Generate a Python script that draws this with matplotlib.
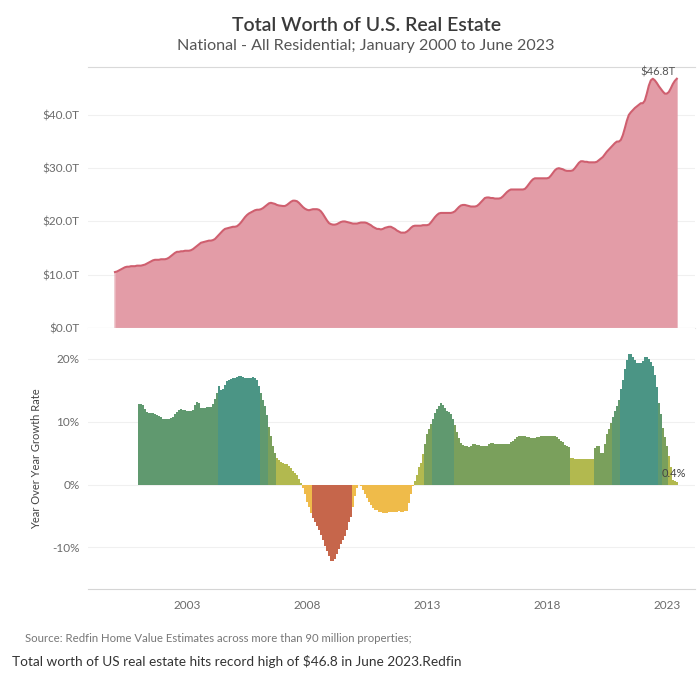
import numpy as np
import matplotlib
matplotlib.use("Agg")
import matplotlib.pyplot as plt
from matplotlib.ticker import FuncFormatter

plt.rcParams['font.family'] = ['Lato', 'DejaVu Sans']

# total worth, $T, monthly Jan 2000 .. Jun 2023 (one row per year)
worth = [
    10.5, 10.6, 10.8, 11.0, 11.2, 11.4, 11.5, 11.5, 11.6, 11.6, 11.6, 11.7,
    11.7, 11.7, 11.8, 11.9, 12.1, 12.3, 12.5, 12.7, 12.8, 12.8, 12.8, 12.9,
    12.9, 12.9, 13.0, 13.2, 13.5, 13.8, 14.1, 14.3, 14.3, 14.4, 14.4, 14.5,
    14.5, 14.5, 14.6, 14.8, 15.1, 15.4, 15.7, 16.0, 16.1, 16.2, 16.3, 16.4,
    16.4, 16.5, 16.7, 17.1, 17.5, 17.9, 18.3, 18.6, 18.7, 18.8, 18.9, 19.0,
    19.0, 19.1, 19.4, 19.8, 20.3, 20.8, 21.2, 21.5, 21.7, 21.9, 22.1, 22.2,
    22.2, 22.3, 22.5, 22.8, 23.1, 23.4, 23.5, 23.4, 23.3, 23.1, 23.0, 22.95,
    22.9, 22.9, 23.1, 23.4, 23.7, 23.9, 23.9, 23.8, 23.5, 23.1, 22.7, 22.4,
    22.2, 22.1, 22.2, 22.3, 22.3, 22.3, 22.2, 21.9, 21.4, 20.8, 20.2, 19.7,
    19.5, 19.4, 19.4, 19.5, 19.7, 19.9, 20.0, 20.0, 19.9, 19.8, 19.7, 19.6,
    19.6, 19.6, 19.7, 19.8, 19.8, 19.8, 19.7, 19.5, 19.3, 19.0, 18.8, 18.6,
    18.6, 18.5, 18.6, 18.8, 18.9, 19.0, 19.0, 18.8, 18.6, 18.3, 18.1, 17.9,
    17.9, 17.9, 18.1, 18.4, 18.8, 19.1, 19.2, 19.2, 19.2, 19.2, 19.3, 19.3,
    19.3, 19.4, 19.8, 20.3, 20.8, 21.2, 21.5, 21.6, 21.6, 21.6, 21.6, 21.6,
    21.6, 21.7, 21.9, 22.3, 22.7, 23.0, 23.1, 23.1, 23.0, 22.9, 22.8, 22.8,
    22.8, 22.9, 23.2, 23.6, 24.0, 24.4, 24.5, 24.5, 24.4, 24.4, 24.3, 24.3,
    24.3, 24.4, 24.7, 25.1, 25.5, 25.8, 26.0, 26.0, 26.0, 26.0, 26.0, 26.0,
    26.0, 26.1, 26.5, 27.0, 27.5, 27.9, 28.1, 28.1, 28.1, 28.1, 28.1, 28.1,
    28.1, 28.2, 28.6, 29.1, 29.6, 29.9, 30.0, 29.9, 29.8, 29.6, 29.5, 29.5,
    29.5, 29.6, 30.0, 30.5, 31.0, 31.3, 31.3, 31.2, 31.2, 31.1, 31.1, 31.1,
    31.1, 31.2, 31.5, 31.8, 32.1, 32.6, 33.1, 33.5, 33.9, 34.3, 34.7, 35.0,
    35.0, 35.3, 36.2, 37.5, 38.9, 40.0, 40.5, 40.9, 41.3, 41.6, 41.9, 42.2,
    42.2, 42.7, 44.0, 45.5, 46.5, 46.8, 46.5, 46.0, 45.4, 44.9, 44.4, 44.0,
    44.0, 44.3, 45.0, 45.8, 46.4, 46.8,
]

# year-over-year growth, %, monthly Jan 2001 .. Jun 2023
growth = [
    12.8, 12.8, 12.6, 12.0, 11.5, 11.4, 11.4, 11.4, 11.3, 11.1, 10.9, 10.7,
    10.5, 10.4, 10.4, 10.5, 10.6, 10.8, 11.2, 11.6, 11.9, 12.0, 11.9, 11.8,
    11.7, 11.7, 11.7, 11.9, 12.6, 13.1, 13.0, 12.2, 12.1, 12.2, 12.3, 12.3,
    12.4, 12.8, 13.6, 14.6, 15.7, 15.0, 15.2, 15.9, 16.4, 16.6, 16.8, 16.9,
    17.0, 17.1, 17.2, 17.2, 17.1, 17.0, 16.9, 16.9, 17.0, 17.1, 17.0, 16.6,
    15.7, 14.6, 13.5, 12.5, 11.0, 9.2, 7.7, 6.2, 5.0, 4.2, 3.9, 3.6,
    3.4, 3.3, 3.2, 3.0, 2.6, 2.2, 1.9, 1.5, 0.9, 0.2, -0.5, -1.5,
    -2.8, -3.6, -4.5, -5.3, -5.9, -6.6, -7.2, -8.0, -8.8, -9.7, -10.6, -11.4,
    -12.1, -12.2, -11.8, -11.0, -10.2, -9.5, -8.8, -8.2, -7.2, -6.0, -5.2, -3.5,
    -1.8, -0.6, -0.1, -0.2, -0.8, -1.5, -2.2, -2.8, -3.3, -3.7, -4.0, -4.1,
    -4.3, -4.4, -4.5, -4.5, -4.5, -4.4, -4.3, -4.4, -4.3, -4.3, -4.2, -4.3,
    -4.3, -4.2, -4.2, -3.0, -1.5, -0.3, 0.6, 1.6, 2.8, 3.5, 4.8, 6.5,
    8.0, 8.8, 9.7, 10.5, 11.4, 12.0, 12.5, 12.9, 12.7, 12.2, 11.7, 11.6,
    11.2, 10.4, 9.4, 8.3, 7.4, 6.6, 6.3, 6.1, 6.1, 6.0, 6.2, 6.4,
    6.4, 6.3, 6.3, 6.2, 6.1, 6.1, 6.2, 6.4, 6.6, 6.6, 6.5, 6.4,
    6.4, 6.4, 6.4, 6.4, 6.4, 6.5, 6.7, 6.9, 7.2, 7.5, 7.7, 7.7,
    7.7, 7.7, 7.6, 7.5, 7.4, 7.4, 7.4, 7.5, 7.6, 7.7, 7.8, 7.8,
    7.8, 7.8, 7.7, 7.8, 7.8, 7.6, 7.2, 7.0, 6.7, 6.3, 6.1, 6.0,
    4.2, 4.2, 4.1, 4.1, 4.1, 4.1, 4.1, 4.0, 4.0, 4.0, 4.0, 4.0,
    5.8, 6.2, 6.2, 5.0, 5.0, 6.5, 8.0, 8.8, 9.8, 10.8, 11.7, 12.5,
    13.5, 15.2, 16.7, 18.3, 19.8, 20.7, 20.7, 20.3, 19.8, 19.4, 19.4, 19.4,
    19.7, 20.3, 20.3, 20.0, 19.5, 18.9, 17.5, 15.5, 13.0, 11.2, 9.0, 7.5,
    6.1, 4.5, 2.8, 0.8, 0.5, 0.4,
]

year_ticks = [2003, 2008, 2013, 2018, 2023]

worth = np.array(worth)
growth = np.array(growth)
t_worth = 2000 + np.arange(len(worth)) / 12
t_growth = 2001 + np.arange(len(growth)) / 12

# bin colours for the growth bars
bin_edges = [-5, 0, 5, 10, 15]
bin_colors = ['#c6664b', '#efbb4a', '#b2b94f', '#7aa05c', '#60996f', '#4b9585']
bar_colors = [bin_colors[i] for i in np.digitize(growth, bin_edges)]

fig = plt.figure(figsize=(7, 6.81), dpi=100)
ax1 = fig.add_axes([0.1257, 0.5184, 0.867, 0.3832])
ax2 = fig.add_axes([0.1257, 0.1351, 0.867, 0.3833])

xlim = (1998.875, 2024.17)
grey = '#6b6b6b'

# top: total worth area
ax1.fill_between(t_worth, worth, color='#e5a0aa', lw=0)
ax1.bar(t_worth, worth, width=1 / 12, color='#e39aa5', lw=0, alpha=0.5)
ax1.plot(t_worth, worth, color='#cf5f6f', lw=1.5)
ax1.set_xlim(*xlim)
ax1.set_ylim(0, 49)
ax1.set_yticks([0, 10, 20, 30, 40])
ax1.yaxis.set_major_formatter(FuncFormatter(lambda v, p: '$%.1fT' % v))
ax1.set_xticks([])
ax1.annotate('$46.8T', (t_worth[-1], worth[-1]), xytext=(-1, 1),
             textcoords='offset points', ha='right', va='bottom',
             fontsize=8, color='#555555')

# bottom: yoy growth bars
ax2.bar(t_growth, growth, width=1 / 12, color=bar_colors, lw=0)
ax2.set_xlim(*xlim)
ax2.set_ylim(-16.6, 24.9)
ax2.set_yticks([-10, 0, 10, 20])
ax2.yaxis.set_major_formatter(FuncFormatter(lambda v, p: '%d%%' % v))
ax2.set_xticks(year_ticks)
ax2.set_ylabel('Year Over Year Growth Rate', fontsize=8, color='#444444', labelpad=7)
ax2.annotate('0.4%', (t_growth[-1], growth[-1]), xytext=(-11, 2),
             textcoords='offset points', ha='left', va='bottom',
             fontsize=8, color='#444444')

for ax in (ax1, ax2):
    for s in ax.spines.values():
        s.set_visible(False)
    ax.grid(axis='y', color='#f0f0f0', lw=0.8)
    ax.set_axisbelow(True)
    ax.tick_params(length=0, labelsize=8.5, labelcolor=grey, pad=6)
ax2.tick_params(axis='x', pad=8)
ax1.spines['top'].set_visible(True)
ax1.spines['top'].set_color('#d9d9d9')
ax1.spines['bottom'].set_visible(True)
ax1.spines['bottom'].set_color('#e6e6e6')
ax2.spines['bottom'].set_visible(True)
ax2.spines['bottom'].set_color('#d5d5d5')

fig.text(0.523, 0.963, 'Total Worth of U.S. Real Estate', ha='center', va='center',
         fontsize=14, fontweight='semibold', color='#3a3a3a')
fig.text(0.523, 0.932, 'National - All Residential; January 2000 to June 2023',
         ha='center', va='center', fontsize=11.6, color='#555555')
fig.text(0.036, 0.063, 'Source: Redfin Home Value Estimates across more than 90 million properties;',
         ha='left', va='center', fontsize=8.2, color='#777777')
fig.text(0.017, 0.028, 'Total worth of US real estate hits record high of $46.8 in June 2023.Redfin',
         ha='left', va='center', fontsize=9.8, color='#333333')

fig.savefig('out.png', dpi=100)
